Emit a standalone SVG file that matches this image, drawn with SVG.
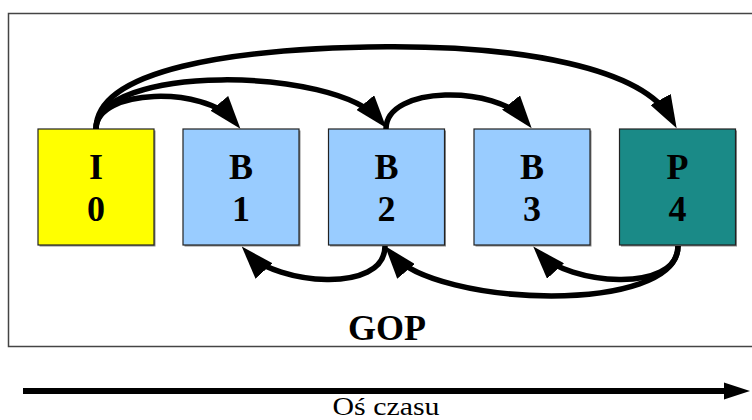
<svg xmlns="http://www.w3.org/2000/svg" width="752" height="420" viewBox="0 0 752 420">
  <style>
    .frame { fill: #ffffff; stroke: #444444; stroke-width: 1.5; }
    .shadow { fill: #8a8a8a; }
    .box { stroke: #222222; stroke-width: 1.2; }
    .iframe { fill: #ffff00; }
    .bframe { fill: #99ccff; }
    .pframe { fill: #1a8a87; }
    .lbl { font-family: "Liberation Serif", "Times New Roman", serif; font-weight: bold; font-size: 36px; fill: #000000; text-anchor: middle; }
    .link { fill: none; stroke: #000000; stroke-width: 5.5; marker-end: url(#head); }
    .axis-label { font-family: "Liberation Serif", "Times New Roman", serif; font-size: 26px; fill: #000000; text-anchor: middle; }
  </style>
  <defs>
    <marker id="head" viewBox="0 0 33 23" markerWidth="33" markerHeight="23" markerUnits="userSpaceOnUse" refX="23" refY="11.5" orient="auto">
      <path d="M0,0 L33,11.5 L0,23 z" fill="#000000"/>
    </marker>
  </defs>

  <!-- group of pictures frame -->
  <rect class="frame" x="8.5" y="13.5" width="760" height="333"/>

  <g id="frame-I0">
    <rect class="shadow" x="39.5" y="130.5" width="116" height="116"/>
    <rect class="box iframe" x="38" y="129" width="116" height="116"/>
    <text class="lbl" x="96" y="179">I</text>
    <text class="lbl" x="96" y="221">0</text>
  </g>
  <g id="frame-B1">
    <rect class="shadow" x="184.5" y="130.5" width="116" height="116"/>
    <rect class="box bframe" x="183" y="129" width="116" height="116"/>
    <text class="lbl" x="241" y="179">B</text>
    <text class="lbl" x="241" y="221">1</text>
  </g>
  <g id="frame-B2">
    <rect class="shadow" x="330" y="130.5" width="116" height="116"/>
    <rect class="box bframe" x="328.5" y="129" width="116" height="116"/>
    <text class="lbl" x="386.5" y="179">B</text>
    <text class="lbl" x="386.5" y="221">2</text>
  </g>
  <g id="frame-B3">
    <rect class="shadow" x="475.5" y="130.5" width="116" height="116"/>
    <rect class="box bframe" x="474" y="129" width="116" height="116"/>
    <text class="lbl" x="532" y="179">B</text>
    <text class="lbl" x="532" y="221">3</text>
  </g>
  <g id="frame-P4">
    <rect class="shadow" x="621" y="130.5" width="116" height="116"/>
    <rect class="box pframe" x="619.5" y="129" width="116" height="116"/>
    <text class="lbl" x="677.5" y="179">P</text>
    <text class="lbl" x="677.5" y="221">4</text>
  </g>

  <g id="connectors">
    <!-- forward references above the frames -->
    <path class="link" d="M96,129 C96,88 205,86 234,121"/>
    <path class="link" d="M96,129 C96,64 335,66 380,120.3"/>
    <path class="link" d="M96,129 C96,70 230,48 387,46.7 C520,46 642.7,67.2 671.8,119.6"/>
    <path class="link" d="M386,129 C386,85 497.2,85.4 525.4,120.5"/>
    <!-- backward references below the frames -->
    <path class="link" d="M385,246 C385,295 275.5,283.5 248.5,254"/>
    <path class="link" d="M678,246 C678,315 436.1,307.5 391.4,253.7"/>
    <path class="link" d="M678,246 C678,295 567,283.5 540,254"/>
  </g>

  <text class="lbl" x="387" y="340">GOP</text>

  <!-- time axis -->
  <g id="time-axis">
    <rect x="23" y="388" width="702" height="6" fill="#000000"/>
    <path d="M724,382.5 L750,391 L724,399.5 z" fill="#000000"/>
    <text class="axis-label" x="386" y="415" textLength="107" lengthAdjust="spacingAndGlyphs">Oś czasu</text>
  </g>
</svg>
